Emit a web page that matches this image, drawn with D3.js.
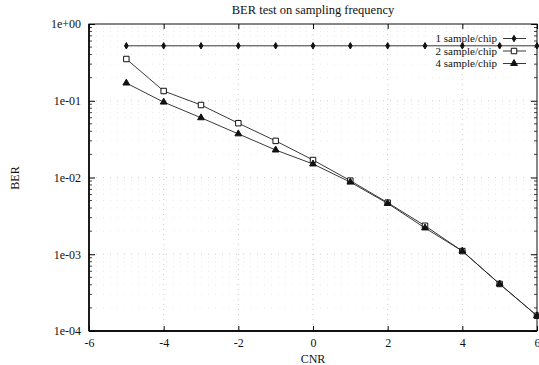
<!DOCTYPE html>
<html>
<head>
<meta charset="utf-8">
<script src="https://cdn.jsdelivr.net/npm/d3@7"></script>
<style>
  body { margin: 0; background: #fff; }
  svg text { font-family: "Liberation Serif", "DejaVu Serif", serif; fill: #111; }
</style>
</head>
<body>
<svg id="chart"></svg>
<script>
// données
const cnr = [-5, -4, -3, -2, -1, 0, 1, 2, 3, 4, 5, 6];
const ber1 = [0.52, 0.52, 0.52, 0.52, 0.52, 0.52, 0.52, 0.52, 0.52, 0.52, 0.52, 0.52];
const ber2 = [0.35, 0.134, 0.088, 0.051, 0.030, 0.0169, 0.0091, 0.0047, 0.00235, 0.0011, 0.00041, 0.000158];
const ber4 = [0.17, 0.096, 0.060, 0.037, 0.0228, 0.015, 0.0087, 0.0046, 0.0022, 0.0011, 0.00041, 0.000158];
const seriesNames = ["1 sample/chip", "2 sample/chip", "4 sample/chip"];
const xTicks = [-6, -4, -2, 0, 2, 4, 6];
const xTickLabels = ["-6", "-4", "-2", "0", "2", "4", "6"];
const yTicks = [1e-4, 1e-3, 1e-2, 1e-1, 1];
const yTickLabels = ["1e-04", "1e-03", "1e-02", "1e-01", "1e+00"];

const width = 539, height = 365;
const margin = { top: 24, right: 2, bottom: 34, left: 89 };

const svg = d3.select("#chart").attr("width", width).attr("height", height);

const x = d3.scaleLinear().domain([-6, 6]).range([margin.left, width - margin.right]);
const y = d3.scaleLog().domain([1e-4, 1]).range([height - margin.bottom, margin.top]);

// ticks mineurs (2..9 dans chaque décade)
const minor = [];
for (let e = -4; e < 0; e++) {
  for (let k = 2; k <= 9; k++) minor.push(k * Math.pow(10, e));
}

// grille pointillée
const grid = svg.append("g");
grid.selectAll(".gx")
  .data(xTicks.slice(1, -1))
  .join("line")
  .attr("x1", d => x(d)).attr("x2", d => x(d))
  .attr("y1", margin.top).attr("y2", height - margin.bottom)
  .attr("stroke", "#aaa").attr("stroke-width", 0.6).attr("stroke-dasharray", "1,4");
grid.selectAll(".gy")
  .data(yTicks.slice(1, -1).concat(minor))
  .join("line")
  .attr("x1", margin.left).attr("x2", width - margin.right)
  .attr("y1", d => y(d)).attr("y2", d => y(d))
  .attr("stroke", d => yTicks.includes(d) ? "#aaa" : "#d8d8d8")
  .attr("stroke-width", 0.6).attr("stroke-dasharray", "1,6");

// cadre
svg.append("rect")
  .attr("x", margin.left).attr("y", margin.top)
  .attr("width", width - margin.left - margin.right)
  .attr("height", height - margin.top - margin.bottom)
  .attr("fill", "none").attr("stroke", "#111").attr("stroke-width", 1);
svg.append("line")
  .attr("x1", margin.left).attr("x2", margin.left)
  .attr("y1", margin.top).attr("y2", height - margin.bottom)
  .attr("stroke", "#111").attr("stroke-width", 1.8);
svg.append("line")
  .attr("x1", margin.left).attr("x2", width - margin.right)
  .attr("y1", height - margin.bottom).attr("y2", height - margin.bottom)
  .attr("stroke", "#111").attr("stroke-width", 1.8);

// axes (ticks vers l'intérieur, style gnuplot)
const xAxis = svg.append("g")
  .attr("transform", `translate(0,${height - margin.bottom})`)
  .call(d3.axisBottom(x).tickValues(xTicks).tickSize(-5).tickPadding(6)
    .tickFormat((d, i) => xTickLabels[i]));
xAxis.select(".domain").remove();
xAxis.selectAll("text").attr("font-size", 12).attr("dy", "0.8em");

const xTop = svg.append("g")
  .attr("transform", `translate(0,${margin.top})`)
  .call(d3.axisTop(x).tickValues(xTicks).tickSize(-5).tickFormat(""));
xTop.select(".domain").remove();

const yAxis = svg.append("g")
  .attr("transform", `translate(${margin.left},0)`)
  .call(d3.axisLeft(y).tickValues(yTicks).tickSize(-6).tickPadding(8)
    .tickFormat((d, i) => yTickLabels[i]));
yAxis.select(".domain").remove();
yAxis.selectAll("text").attr("font-size", 12);

const yRight = svg.append("g")
  .attr("transform", `translate(${width - margin.right},0)`)
  .call(d3.axisRight(y).tickValues(yTicks).tickSize(-6).tickFormat(""));
yRight.select(".domain").remove();

[[margin.left, 3], [width - margin.right, -3]].forEach(([px, len]) => {
  svg.append("g").selectAll("line")
    .data(minor)
    .join("line")
    .attr("x1", px).attr("x2", px + len)
    .attr("y1", d => y(d)).attr("y2", d => y(d))
    .attr("stroke", "#111").attr("stroke-width", 0.8);
});

// titres
svg.append("text")
  .attr("x", (margin.left + width - margin.right) / 2).attr("y", 14)
  .attr("text-anchor", "middle").attr("font-size", 12.5)
  .text("BER test on sampling frequency");
svg.append("text")
  .attr("x", (margin.left + width - margin.right) / 2).attr("y", 363)
  .attr("text-anchor", "middle").attr("font-size", 12)
  .text("CNR");
svg.append("text")
  .attr("transform", `translate(19,178) rotate(-90)`)
  .attr("text-anchor", "middle").attr("font-size", 12)
  .text("BER");

// séries
const series = [ber1, ber2, ber4].map((vals, i) => ({
  name: seriesNames[i],
  points: cnr.map((c, j) => ({ x: c, y: vals[j] }))
}));

const line = d3.line().x(d => x(d.x)).y(d => y(d.y));

const symbols = [
  d3.symbol().type(d3.symbolDiamond).size(12),
  d3.symbol().type(d3.symbolSquare).size(30),
  d3.symbol().type(d3.symbolTriangle).size(20)
];
const fills = ["#111", "#fff", "#111"];

series.forEach((s, i) => {
  svg.append("path")
    .datum(s.points)
    .attr("d", line)
    .attr("fill", "none").attr("stroke", "#222").attr("stroke-width", 0.9);
  svg.append("g").selectAll("path")
    .data(s.points)
    .join("path")
    .attr("d", symbols[i])
    .attr("transform", d => `translate(${x(d.x)},${y(d.y)})`)
    .attr("fill", fills[i]).attr("stroke", "#111").attr("stroke-width", 1);
});

// légende
const legend = svg.append("g");
const legendY = [38.5, 51, 63.5];
series.forEach((s, i) => {
  legend.append("text")
    .attr("x", 497).attr("y", legendY[i]).attr("dy", "0.33em")
    .attr("text-anchor", "end").attr("font-size", 11)
    .text(s.name);
  legend.append("line")
    .attr("x1", 503).attr("x2", 526)
    .attr("y1", legendY[i]).attr("y2", legendY[i])
    .attr("stroke", "#222").attr("stroke-width", 0.9);
  legend.append("path")
    .attr("d", symbols[i])
    .attr("transform", `translate(514,${legendY[i]})`)
    .attr("fill", fills[i]).attr("stroke", "#111").attr("stroke-width", 1);
});
</script>
</body>
</html>
